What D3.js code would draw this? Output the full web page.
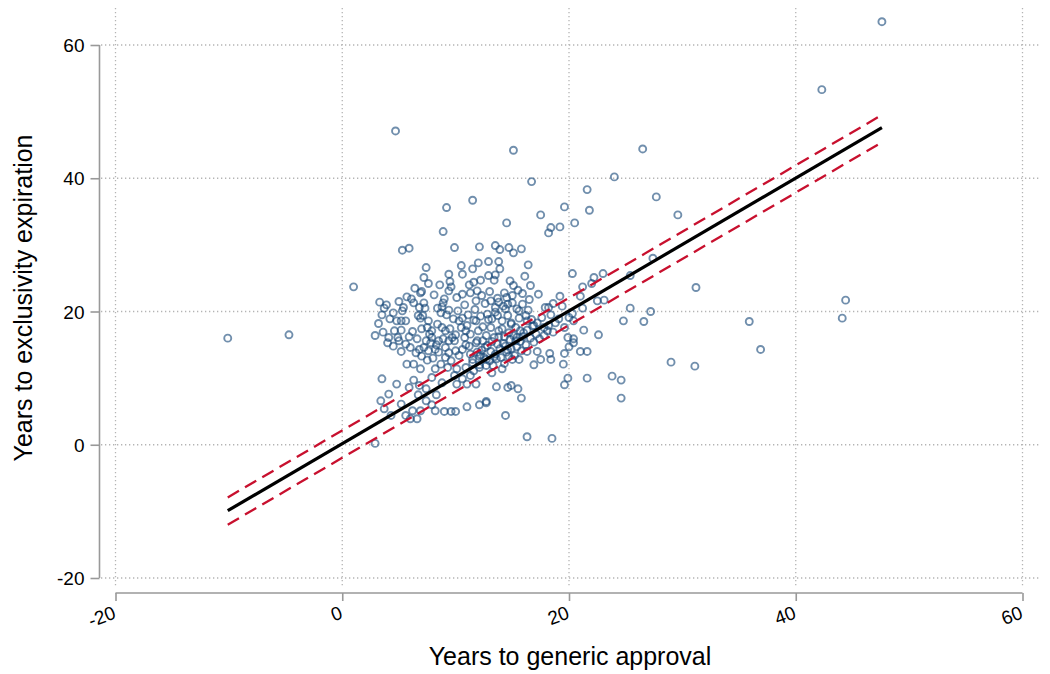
<!DOCTYPE html>
<html>
<head>
<meta charset="utf-8">
<script src="https://cdn.jsdelivr.net/npm/d3@7"></script>
<style>
html,body{margin:0;padding:0;background:#fff;}
svg{display:block;font-family:"Liberation Sans",Arial,Helvetica,sans-serif;}
</style>
</head>
<body>
<svg id="chart" width="1050" height="674"></svg>
<script>
// ---- data ----
const xTicks = [-20, 0, 20, 40, 60];
const yTicks = [-20, 0, 20, 40, 60];
const xTickLabels = ["-20", "0", "20", "40", "60"];
const yTickLabels = ["-20", "0", "20", "40", "60"];
const xTitle = "Years to generic approval";
const yTitle = "Years to exclusivity expiration";

// fitted line and confidence band endpoints
const fitX = [-10.1, 47.6];
const fitY = [-9.9, 47.6];
const ciUpper = [-7.9, 49.5];
const ciLower = [-12.0, 45.4];

// scatter points [years to generic approval, years to exclusivity expiration]
const sparsePts = [
 [-10.1,16.0],[-4.7,16.5],[4.7,47.1],[15.1,44.2],[16.7,39.5],[9.2,35.6],[11.5,36.7],[8.9,32.0],[14.5,33.3],[17.5,34.5],
 [19.6,35.7],[18.4,32.6],[18.2,31.8],[19.2,32.7],[20.5,33.3],[21.6,38.3],[21.8,35.2],[24.0,40.2],[26.5,44.4],[27.7,37.2],
 [29.6,34.5],[42.3,53.3],[47.6,63.5],[27.4,28.0],[25.4,25.4],[31.2,23.6],[25.4,20.5],[27.2,20.0],[24.8,18.6],[26.6,18.5],
 [35.9,18.5],[36.9,14.3],[29.0,12.4],[31.1,11.8],[24.6,9.7],[24.6,7.0],[44.4,21.7],[44.1,19.0]
];
const rightPts = [
 [22.6,16.5],[20.4,15.9],[20.0,14.7],[20.4,15.3],[21.0,14.0],[21.6,14.0],[19.6,13.7],[18.3,13.7],[17.2,14.0],[17.5,12.8],
 [18.4,12.8],[16.9,12.0],[19.5,12.1],[19.9,10.0],[19.6,9.0],[21.6,10.0],[23.8,10.3],[16.3,14.0],[15.6,12.8],[14.1,11.4],
 [13.2,10.8],[13.6,8.7],[14.6,8.6],[14.9,8.9],[15.5,8.4],[15.8,7.0],[12.7,6.3],[14.4,4.4],[16.3,1.2],[18.5,0.95]
];
const upperPts = [
 [13.5,29.9],[13.9,29.3],[14.7,29.6],[15.1,28.8],[15.8,29.4],[12.9,27.5],[13.8,27.5],[16.4,27.0],[13.9,26.4],[12.9,25.4],
 [13.5,25.5],[13.4,24.7],[15.1,23.9],[16.6,23.9],[15.9,22.7],[14.3,22.8],[14.5,22.1],[13.1,21.6],[13.8,21.4],[14.6,21.1],
 [15.0,21.3],[13.5,20.6],[14.4,20.4],[15.4,20.4],[19.2,22.3],[18.6,21.2],[18.2,20.6],[20.3,25.7],[21.2,23.7],[22.2,25.1],
 [23.0,25.7],[22.0,24.2],[21.0,22.3],[22.5,21.6],[23.1,21.7],[21.2,20.5],[20.3,19.7],[20.4,18.6],[21.3,17.2],[19.6,17.6],
 [18.8,18.3],[19.9,16.1],[16.2,19.4],[15.6,20.1],[16.3,18.6],[16.9,17.9],[17.2,18.3],[17.8,17.6],[18.1,17.1],[12.8,19.6],
 [13.2,18.9],[13.7,19.4],[14.1,18.6],[14.6,19.4],[14.9,18.1],[13.1,17.6],[13.8,17.1],[14.7,16.8],[15.3,17.6],[12.7,16.4],
 [13.4,16.1],[14.3,16.2],[15.4,16.1],[15.7,17.1]
];
const leftUpperPts = [
 [5.3,29.2],[5.9,29.5],[9.9,29.6],[12.1,29.7],[10.5,26.9],[12.0,27.3],[7.4,26.6],[11.5,26.4],[9.4,25.6],[10.6,25.6],
 [7.2,25.1],[9.5,24.5],[8.6,24.0],[9.6,23.7],[11.2,24.0],[11.6,24.4],[12.2,24.7],[1.0,23.7],[6.4,23.5],[7.0,23.0],
 [5.7,22.2],[10.1,22.1],[9.0,21.9],[11.3,22.8],[11.9,23.1],[12.3,22.4],[11.8,21.6],[3.3,21.4],[3.7,20.5],[3.5,19.5],
 [4.2,18.9],[5.3,20.1],[5.4,20.6],[6.3,21.3],[6.8,20.6],[7.2,21.3],[7.3,20.5],[6.7,19.4],[7.1,19.4],[6.9,19.0],
 [5.6,18.6],[5.2,18.6],[8.7,19.8],[8.9,21.3],[9.4,20.2],[8.8,20.7],[7.6,18.6],[8.4,18.1],[8.8,17.6],[2.9,16.4],
 [4.1,16.1],[4.6,17.1],[5.2,17.2],[4.9,16.1],[5.9,16.2],[7.0,17.4],[7.5,17.6],[7.9,17.1],[7.9,16.1],[9.1,17.1],
 [9.7,16.1],[10.3,18.6],[10.6,19.0],[10.9,17.1],[10.8,16.1],[11.8,18.6],[12.0,17.1]
];
const leftLowerPts = [
 [5.2,14.0],[6.8,14.3],[7.2,14.6],[7.6,14.1],[8.2,14.3],[8.5,13.9],[9.1,14.6],[9.4,13.8],[10.0,14.1],[10.6,14.3],
 [11.2,14.8],[11.8,15.3],[12.4,15.6],[7.8,15.3],[7.4,15.6],[9.9,15.6],[8.5,15.6],[9.4,15.6],[5.7,12.1],[6.3,12.1],
 [6.9,11.4],[8.2,11.4],[9.3,11.6],[10.1,11.4],[10.9,11.6],[11.6,11.1],[12.1,11.6],[12.7,11.9],[9.9,10.4],[10.6,9.9],
 [11.3,10.4],[11.8,9.1],[11.0,9.1],[10.1,9.1],[3.5,9.9],[4.8,9.1],[6.3,9.7],[5.9,8.6],[6.8,8.9],[7.4,8.4],
 [4.1,7.6],[6.7,7.5],[8.3,7.5],[3.4,6.6],[5.2,6.1],[3.7,5.4],[7.4,6.6],[7.9,6.0],[6.2,5.1],[6.9,5.1],
 [5.6,4.4],[6.0,3.9],[6.6,3.9],[4.3,4.4],[8.2,5.1],[9.0,5.0],[9.6,5.0],[10.0,5.0],[11.0,5.7],[12.1,6.0],
 [12.7,6.5],[2.9,0.2],[7.9,10.1],[8.8,9.3],[11.5,12.8],[12.1,13.3],[12.7,12.8],[11.3,13.6]
];
const corePts = [
 [12.3,14.2],[12.8,14.9],[13.2,15.5],[13.5,13.6],[13.9,14.4],[14.2,15.2],[14.5,13.9],[14.8,15.8],[15.1,16.4],[15.4,14.7],
 [15.7,15.5],[16.0,16.8],[16.3,17.2],[16.6,16.0],[16.9,15.4],[13.0,12.6],[13.6,12.9],[14.0,13.1],[14.6,14.2],[15.2,13.4],
 [12.5,13.1],[11.9,13.9],[11.5,12.3],[12.1,12.0],[13.3,11.9],[14.3,12.2],[15.0,12.8],[15.8,14.1],[16.2,15.0],[16.8,17.8],
 [17.1,16.6],[17.4,15.9],[17.8,16.4],[18.2,17.9],[18.6,16.9],[13.8,16.2],[14.1,17.4],[14.9,18.3],[15.6,19.0],[12.4,17.7],
 [12.9,18.8],[13.5,19.9],[14.2,20.8],[15.0,22.4],[15.5,23.2],[13.0,23.0],[12.6,21.2],[11.7,20.3],[11.1,19.5],[10.8,21.0],
 [10.2,20.1],[9.8,18.9],[10.5,17.6],[11.3,16.6],[11.9,15.6],[10.9,15.0],[10.3,13.4],[9.6,12.6],[9.1,13.1],[8.7,12.1],
 [8.0,13.0],[7.5,12.7],[7.0,13.3],[6.5,13.8],[6.0,14.6],[5.6,15.1],[5.0,15.6],[4.5,14.8],[4.0,15.3],[3.6,16.9],
 [3.2,18.2],[4.8,18.6],[6.2,17.0],[6.6,15.9],[7.7,16.6],[8.3,15.0],[8.9,15.9],[9.5,17.4],[10.0,16.5],[11.0,17.9],
 [11.6,18.7],[12.2,19.3],[10.6,22.6],[9.4,23.1],[8.1,22.5],[7.6,24.2],[6.1,21.9],[5.0,21.5],[4.5,19.8],[3.9,21.0],
 [6.9,22.8],[8.4,20.5],[9.2,19.5],[13.7,22.0],[14.8,24.6],[16.1,25.3],[16.5,21.8],[17.3,22.6],[17.9,20.6],[18.4,19.5],
 [19.1,18.9],[19.4,20.8],[20.0,19.1],[17.6,19.1],[16.7,18.8],[16.4,20.2],[15.9,21.1],
 [12.6,14.6],[13.1,14.0],[13.7,15.1],[14.4,14.8],[14.9,14.4],[15.3,15.6],[15.9,16.2],[12.2,13.5],[13.4,13.2],[14.7,13.3]
];
const points = [].concat(sparsePts, rightPts, upperPts, leftUpperPts, leftLowerPts, corePts);

// ---- drawing ----
const svg = d3.select("#chart");
const x = d3.scaleLinear().domain([-20, 60]).range([115.5, 1022.5]);
const y = d3.scaleLinear().domain([-20, 60]).range([578, 45]);

// grid
const grid = svg.append("g").attr("stroke", "#b4b4b4").attr("stroke-width", 1.3)
  .attr("stroke-dasharray", "1.3,2.7").attr("fill", "none");
grid.selectAll("line.h").data(yTicks).join("line").attr("class", "h")
  .attr("x1", 101).attr("x2", 1040).attr("y1", d => y(d)).attr("y2", d => y(d));
grid.selectAll("line.v").data(xTicks).join("line").attr("class", "v")
  .attr("y1", 8).attr("y2", 587).attr("x1", d => x(d)).attr("x2", d => x(d));

// y axis
const yAxis = svg.append("g").attr("transform", "translate(99.5,0)")
  .call(d3.axisLeft(y).tickValues(yTicks).tickSize(9).tickPadding(6)
    .tickFormat((d, i) => yTickLabels[i]));
yAxis.select(".domain").attr("stroke", "#999").attr("stroke-width", 1.6).attr("d", `M0,${y(60)}V${y(-20)}`);
yAxis.selectAll(".tick line").attr("stroke", "#999").attr("stroke-width", 1.6);
yAxis.selectAll(".tick text").attr("font-size", 19).attr("fill", "#000")
  .attr("font-family", "Liberation Sans, Arial, sans-serif").attr("dy", "0.35em");

// x axis
const xAxis = svg.append("g").attr("transform", "translate(0,593)")
  .call(d3.axisBottom(x).tickValues(xTicks).tickSize(8).tickFormat((d, i) => xTickLabels[i]));
xAxis.select(".domain").attr("stroke", "#999").attr("stroke-width", 1.6).attr("d", `M${x(-20)},0H${x(60)}`);
xAxis.selectAll(".tick line").attr("stroke", "#999").attr("stroke-width", 1.6);
xAxis.selectAll(".tick text").attr("font-size", 19).attr("fill", "#000")
  .attr("font-family", "Liberation Sans, Arial, sans-serif")
  .attr("y", 0).attr("dy", 0)
  .attr("text-anchor", "end")
  .attr("transform", "translate(1,25) rotate(-20)");

// points
svg.append("g").selectAll("circle").data(points).join("circle")
  .attr("cx", d => x(d[0])).attr("cy", d => y(d[1])).attr("r", 3.5)
  .attr("fill", "none").attr("stroke", "#1a4a7a").attr("stroke-opacity", 0.62).attr("stroke-width", 1.9);

// confidence band and fit
const seg = (xs, ys) => xs.map((v, i) => [x(v), y(ys[i])]);
const line = d3.line();
svg.append("path").attr("d", line(seg(fitX, ciUpper))).attr("stroke", "#c8102e")
  .attr("stroke-width", 2.3).attr("stroke-dasharray", "13,7").attr("fill", "none");
svg.append("path").attr("d", line(seg(fitX, ciLower))).attr("stroke", "#c8102e")
  .attr("stroke-width", 2.3).attr("stroke-dasharray", "13,7").attr("fill", "none");
svg.append("path").attr("d", line(seg(fitX, fitY))).attr("stroke", "#000")
  .attr("stroke-width", 3.2).attr("fill", "none");

// titles
svg.append("text").attr("x", 570).attr("y", 665).attr("text-anchor", "middle")
  .attr("font-size", 25).attr("fill", "#000").text(xTitle);
svg.append("text").attr("transform", "translate(32,298) rotate(-90)").attr("text-anchor", "middle")
  .attr("font-size", 25).attr("fill", "#000").text(yTitle);
</script>
</body>
</html>
